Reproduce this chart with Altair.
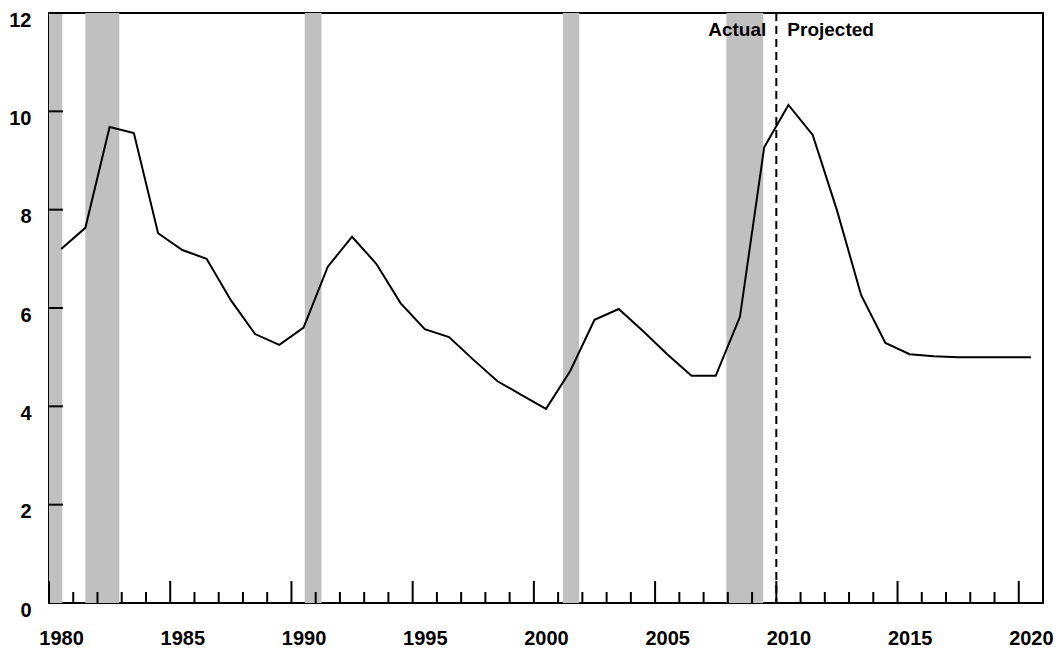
import altair as alt
import pandas as pd

# ---- data ----
years = list(range(1980, 2021))
rate = [7.2, 7.63, 9.68, 9.56, 7.52, 7.18, 7.0, 6.16, 5.47, 5.25,
        5.6, 6.84, 7.45, 6.9, 6.1, 5.57, 5.41, 4.95, 4.51, 4.23,
        3.95, 4.72, 5.76, 5.98, 5.53, 5.06, 4.62, 4.62, 5.82, 9.27,
        10.13, 9.52, 7.99, 6.26, 5.29, 5.06, 5.02, 5.0, 5.0, 5.0, 5.0]

rec_start = [1980.0, 1981.5, 1990.55, 2001.2, 2007.94]
rec_end = [1980.55, 1982.9, 1991.24, 2001.87, 2009.46]

major_ticks = [1980, 1985, 1990, 1995, 2000, 2005, 2010, 2015, 2020]
minor_ticks = [y for y in range(1981, 2021) if y % 5 != 0]
x_label_years = [1980, 1985, 1990, 1995, 2000, 2005, 2010, 2015, 2020]
y_ticks = [2, 4, 6, 8, 10, 12]
y_labels = [0, 2, 4, 6, 8, 10, 12]
split_year = 2010
split_labels = ["Actual", "Projected"]

W, H = 994, 590
FONT = "Liberation Sans"

xscale = alt.Scale(domain=[1980, 2021], nice=False, zero=False)
yscale = alt.Scale(domain=[0, 12], nice=False, zero=False)

xaxis = alt.Axis(values=[y + 0.5 for y in x_label_years],
                 labelExpr="floor(datum.value)", labelPadding=25,
                 labelFlush=False, title=None)
yaxis = alt.Axis(values=y_labels, labelPadding=18, labelOffset=7, title=None)

df_line = pd.DataFrame({"year": years, "rate": rate})
df_rec = pd.DataFrame({"start": rec_start, "end": rec_end})
df_major = pd.DataFrame({"pos": major_ticks})
df_minor = pd.DataFrame({"pos": minor_ticks})
df_yt = pd.DataFrame({"v": y_ticks})

line = alt.Chart(df_line).transform_calculate(
    mid="datum.year + 0.5"
).mark_line(color="black", strokeWidth=2).encode(
    x=alt.X("mid:Q", scale=xscale, axis=xaxis),
    y=alt.Y("rate:Q", scale=yscale, axis=yaxis),
)

rec = alt.Chart(df_rec).mark_rect(color="#c0c0c0").encode(
    x=alt.X("start:Q", scale=xscale, title=None),
    x2="end:Q",
    y=alt.datum(12, scale=yscale),
    y2=alt.datum(0),
)

major = alt.Chart(df_major).mark_rule(color="black", strokeWidth=2).encode(
    x=alt.X("pos:Q", scale=xscale, title=None),
    y=alt.value(H), y2=alt.value(H - 22),
)
minor = alt.Chart(df_minor).mark_rule(color="black", strokeWidth=2).encode(
    x=alt.X("pos:Q", scale=xscale, title=None),
    y=alt.value(H), y2=alt.value(H - 11),
)
yt = alt.Chart(df_yt).mark_rule(color="black", strokeWidth=2).encode(
    y=alt.Y("v:Q", scale=yscale, title=None),
    x=alt.value(0), x2=alt.value(14),
)

split = alt.Chart(pd.DataFrame({"x": [split_year]})).mark_rule(
    color="black", strokeWidth=2, strokeDash=[8, 5]
).encode(x=alt.X("x:Q", scale=xscale, title=None))

txt_a = alt.Chart(pd.DataFrame({"x": [split_year], "t": [split_labels[0]]})).mark_text(
    align="right", baseline="middle", dx=-10, font=FONT, fontWeight="bold",
    fontSize=19, color="black"
).encode(x=alt.X("x:Q", scale=xscale, title=None), y=alt.value(17), text="t:N")

txt_p = alt.Chart(pd.DataFrame({"x": [split_year], "t": [split_labels[1]]})).mark_text(
    align="left", baseline="middle", dx=11, font=FONT, fontWeight="bold",
    fontSize=19, color="black"
).encode(x=alt.X("x:Q", scale=xscale, title=None), y=alt.value(17), text="t:N")

chart = alt.layer(rec, major, minor, yt, line, split, txt_a, txt_p).properties(
    width=W, height=H,
    autosize=alt.AutoSizeParams(type="none"),
    padding={"left": 41, "top": 5, "right": 12, "bottom": 44},
).configure_view(
    stroke="black", strokeWidth=2
).configure_axis(
    grid=False, domain=False, ticks=False, tickSize=0,
    labelFont=FONT, labelFontWeight="bold", labelFontSize=20, labelColor="black",
)

chart.save("out.html", embed_options={"renderer": "svg", "actions": False})
